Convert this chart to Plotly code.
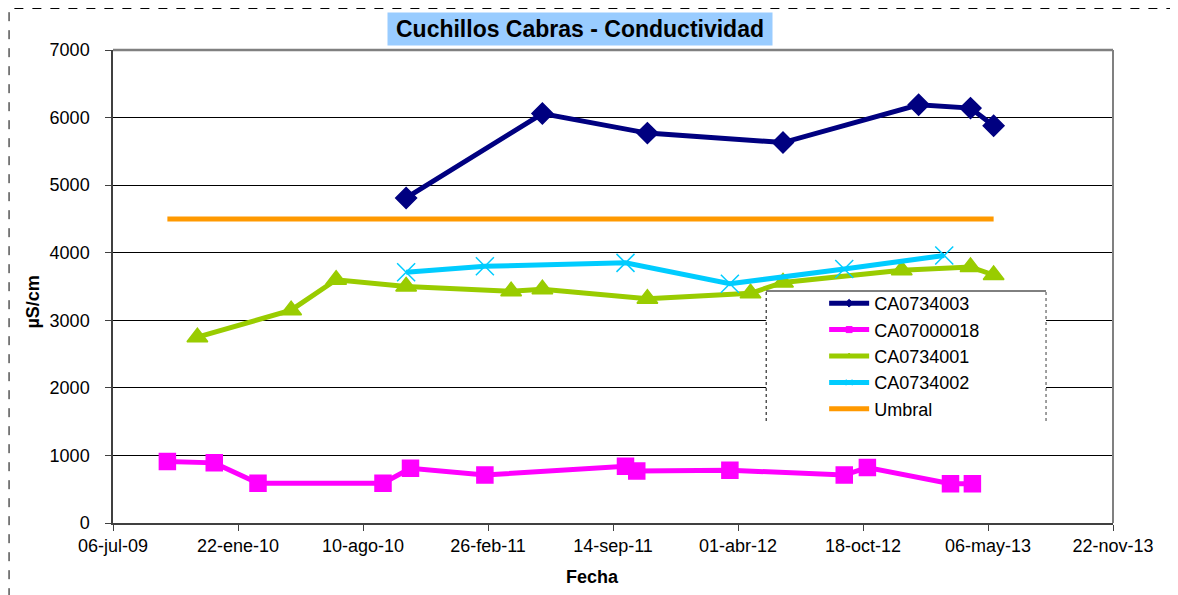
import plotly.graph_objects as go

# ---------------- data ----------------
tick_dates = ["2009-07-06", "2010-01-22", "2010-08-10", "2011-02-26", "2011-09-14",
              "2012-04-01", "2012-10-18", "2013-05-06", "2013-11-22"]
tick_labels = ["06-jul-09", "22-ene-10", "10-ago-10", "26-feb-11", "14-sep-11",
               "01-abr-12", "18-oct-12", "06-may-13", "22-nov-13"]
y_ticks = [0, 1000, 2000, 3000, 4000, 5000, 6000, 7000]

ca0734003_dates = ["2010-10-18", "2011-05-24", "2011-11-08", "2012-06-12",
                   "2013-01-15", "2013-04-08", "2013-05-15"]
ca0734003_vals = [4810, 6060, 5770, 5630, 6190, 6140, 5880]

ca07000018_dates = ["2009-10-01", "2009-12-15", "2010-02-23", "2010-09-11", "2010-10-25",
                    "2011-02-21", "2011-10-04", "2011-10-22", "2012-03-19", "2012-09-18",
                    "2012-10-25", "2013-03-07", "2013-04-11"]
ca07000018_vals = [910, 890, 590, 590, 810, 710, 840, 770, 780, 710, 820, 580, 580]

ca0734001_dates = ["2009-11-18", "2010-04-17", "2010-06-28", "2010-10-18", "2011-04-04",
                   "2011-05-24", "2011-11-08", "2012-04-21", "2012-06-12", "2012-12-19",
                   "2013-04-08", "2013-05-15"]
ca0734001_vals = [2750, 3150, 3600, 3500, 3430, 3460, 3320, 3400, 3560, 3740, 3790, 3670]

ca0734002_dates = ["2010-10-18", "2011-02-21", "2011-10-04", "2012-03-19",
                   "2012-09-18", "2013-02-25"]
ca0734002_vals = [3710, 3800, 3850, 3540, 3760, 3960]

umbral_dates = ["2009-10-01", "2013-05-15"]
umbral_vals = [4500, 4500]

# ---------------- layout geometry (page coords; body has 8px margin) ----------------
OFF = 8
W, H = 1178 - OFF, 595 - OFF
PL, PR, PT, PB = 112.5, 1113, 50, 523      # plot area in page pixels
PW = PR - PL
PH = PB - PT
L, T = PL - OFF, PT - OFF
R = W - L - PW
B = H - T - PH


def px(x):
    return (x - PL) / PW


def py(y):
    return (PB - y) / PH


FONT = "Arial, Liberation Sans, sans-serif"

series = [
    ("CA0734003", ca0734003_dates, ca0734003_vals, "#000080", "diamond", 16),
    ("CA07000018", ca07000018_dates, ca07000018_vals, "#FF00FF", "square", 16),
    ("CA0734001", ca0734001_dates, ca0734001_vals, "#99CC00", "triangle-up", 18),
    ("CA0734002", ca0734002_dates, ca0734002_vals, "#00CCFF", "x-thin-open", 18),
]

fig = go.Figure()
for name, xs, ys, col, sym, size in series:
    fig.add_trace(go.Scatter(
        x=xs, y=ys, name=name, mode="lines+markers", showlegend=False,
        line=dict(color=col, width=5),
        marker=dict(symbol=sym, size=size, color=col, line=dict(color=col, width=1.5))))
fig.add_trace(go.Scatter(
    x=umbral_dates, y=umbral_vals, name="Umbral", mode="lines", showlegend=False,
    line=dict(color="#FF9900", width=5)))

# legend entries (small markers as in the original legend)
for name, xs, ys, col, sym, size in series:
    fig.add_trace(go.Scatter(
        x=[None], y=[None], name=name, mode="lines+markers",
        line=dict(color=col, width=5),
        marker=dict(symbol=sym, size=6, color=col, line=dict(color=col, width=1))))
fig.add_trace(go.Scatter(
    x=[None], y=[None], name="Umbral", mode="lines",
    line=dict(color="#FF9900", width=5)))

# legend box (white, covers grid)
lx0, lx1, ly0, ly1 = 766, 1046, 291, 421
shapes = [
    dict(type="rect", xref="paper", yref="paper", x0=px(lx0), x1=px(lx1), y0=py(ly1), y1=py(ly0),
         fillcolor="white", line=dict(width=0), layer="above"),
    dict(type="line", xref="paper", yref="paper", x0=px(lx0), x1=px(lx1), y0=py(ly0), y1=py(ly0),
         line=dict(color="black", width=1), layer="above"),
    dict(type="line", xref="paper", yref="paper", x0=px(lx0), x1=px(lx0), y0=py(ly1), y1=py(ly0),
         line=dict(color="black", width=1, dash="dot"), layer="above"),
    dict(type="line", xref="paper", yref="paper", x0=px(lx1), x1=px(lx1), y0=py(ly1), y1=py(ly0),
         line=dict(color="#808080", width=1.5, dash="dot"), layer="above"),
    # outer dashed chart border
    dict(type="rect", xref="paper", yref="paper", x0=px(8.5), x1=px(1185), y0=py(605), y1=py(8.5),
         line=dict(color="black", width=1, dash="dash"), fillcolor="rgba(0,0,0,0)", layer="below"),
    # right plot border (gray)
    dict(type="line", xref="paper", yref="paper", x0=1, x1=1, y0=0, y1=1,
         line=dict(color="#808080", width=2), layer="above"),
    # top gray border
    dict(type="line", xref="paper", yref="paper", x0=0, x1=1, y0=1, y1=1,
         line=dict(color="#808080", width=2.5), layer="above"),
]

annotations = [
    dict(text="<b>Cuchillos Cabras - Conductividad</b>", xref="paper", yref="paper",
         x=px(580), y=py(29), xanchor="center", yanchor="middle", showarrow=False,
         font=dict(family=FONT, size=23, color="black"), bgcolor="#99CCFF",
         width=380, height=28, borderpad=2),
    dict(text="<b>Fecha</b>", xref="paper", yref="paper", x=px(592), y=py(577),
         xanchor="center", yanchor="middle", showarrow=False,
         font=dict(family=FONT, size=18, color="black")),
    dict(text="<b>µS/cm</b>", xref="paper", yref="paper", x=px(32), y=py(302),
         xanchor="center", yanchor="middle", showarrow=False, textangle=-90,
         font=dict(family=FONT, size=18, color="black")),
]

fig.update_layout(
    width=W, height=H,
    margin=dict(l=L, r=R, t=T, b=B, autoexpand=False),
    paper_bgcolor="white", plot_bgcolor="white",
    font=dict(family=FONT, size=18, color="black"),
    showlegend=True,
    legend=dict(x=px(824), y=py(285), xanchor="left", yanchor="top",
                bgcolor="rgba(0,0,0,0)", borderwidth=0,
                font=dict(family=FONT, size=18, color="black"),
                tracegroupgap=0, itemwidth=40),
    shapes=shapes,
    annotations=annotations,
)

fig.update_xaxes(
    type="date", range=["2009-07-06", "2013-11-22"],
    tickmode="array", tickvals=tick_dates, ticktext=tick_labels,
    ticks="outside", ticklen=6, tickcolor="#404040",
    showline=True, linecolor="#404040", linewidth=1.5,
    mirror=False, showgrid=False, zeroline=False,
    tickfont=dict(family=FONT, size=18, color="black"),
)
fig.update_yaxes(
    range=[0, 7000], tickmode="array", tickvals=y_ticks,
    ticks="outside", ticklen=6, tickcolor="#404040", ticklabelstandoff=12,
    showline=True, linecolor="#404040", linewidth=1.5,
    showgrid=True, gridcolor="black", gridwidth=1, zeroline=False,
    tickfont=dict(family=FONT, size=18, color="black"),
)

fig.write_html("out.html")
